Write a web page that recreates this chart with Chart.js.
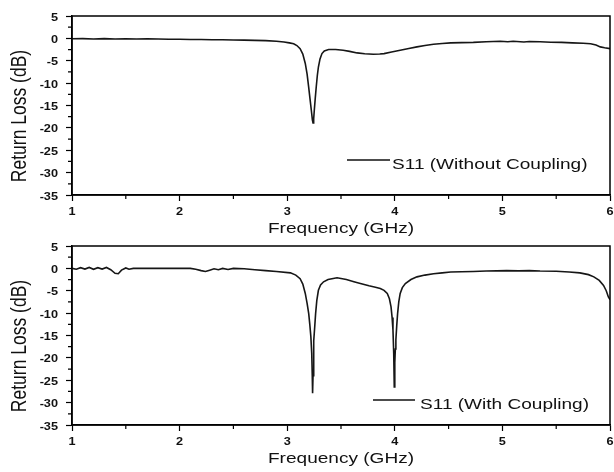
<!DOCTYPE html>
<html>
<head>
<meta charset="utf-8">
<script src="https://cdn.jsdelivr.net/npm/chart.js@4.4.1/dist/chart.umd.min.js"></script>
<style>
  body { margin: 0; background: #fff; }
  .panel { position: absolute; left: 0; width: 614px; height: 242px; }
  #p1 { top: 0; }
  #p2 { top: 230px; }
</style>
</head>
<body>
<div class="panel" id="p1"><canvas id="c1" width="614" height="242"></canvas></div>
<div class="panel" id="p2"><canvas id="c2" width="614" height="242"></canvas></div>
<script>
// frequency axis (GHz) and S11 values (dB)
const freqWithout = [1.0, 1.1, 1.2, 1.3, 1.4, 1.5, 1.6, 1.7, 1.8, 1.9, 2.0, 2.1, 2.2, 2.3, 2.4, 2.5,
  2.6, 2.7, 2.8, 2.9, 2.97, 3.02, 3.06, 3.09, 3.12, 3.145, 3.168, 3.185, 3.199, 3.212, 3.224,
  3.234, 3.24, 3.246, 3.252, 3.261, 3.27, 3.28, 3.29, 3.305, 3.323, 3.345, 3.385, 3.45, 3.52,
  3.58, 3.65, 3.72, 3.8, 3.86, 3.9, 3.97, 4.05, 4.13, 4.206, 4.28, 4.36, 4.44, 4.52, 4.62,
  4.73, 4.85, 4.98, 5.05, 5.1, 5.2, 5.25, 5.35, 5.45, 5.55, 5.65, 5.75, 5.82, 5.87, 5.91,
  5.95, 6.0];
const s11Without = [-0.1, -0.05, -0.15, -0.05, -0.15, -0.1, -0.15, -0.1, -0.15, -0.2, -0.2, -0.25,
  -0.25, -0.3, -0.3, -0.35, -0.4, -0.45, -0.5, -0.65, -0.8, -1.0, -1.2, -1.6, -2.3, -3.5, -5.6,
  -8.0, -10.8, -13.5, -16, -18.2, -18.9, -18.0, -16, -13.3, -10.8, -8.3, -6.4, -4.6, -3.4,
  -2.8, -2.5, -2.5, -2.65, -2.9, -3.25, -3.45, -3.55, -3.5, -3.4, -3.05, -2.65, -2.25, -1.9,
  -1.6, -1.3, -1.15, -1.0, -0.95, -0.9, -0.75, -0.65, -0.75, -0.65, -0.8, -0.7, -0.75, -0.85,
  -0.9, -1.0, -1.1, -1.2, -1.5, -1.9, -2.1, -2.3];

const freqWith = [1.0, 1.04, 1.08, 1.12, 1.16, 1.2, 1.24, 1.28, 1.32, 1.36, 1.4, 1.43, 1.46, 1.5,
  1.53, 1.57, 1.7, 1.9, 2.1, 2.15, 2.2, 2.24, 2.28, 2.32, 2.36, 2.4, 2.45, 2.5, 2.6, 2.7, 2.8,
  2.9, 3.03, 3.08, 3.12, 3.145, 3.168, 3.185, 3.2, 3.21, 3.22, 3.228, 3.233, 3.236, 3.24,
  3.244, 3.249, 3.256, 3.264, 3.275, 3.29, 3.31, 3.338, 3.38, 3.463, 3.55, 3.62, 3.68, 3.76,
  3.82, 3.865, 3.9, 3.93, 3.95, 3.965, 3.975, 3.983, 3.99, 3.995, 4.0, 4.005, 4.01, 4.018,
  4.026, 4.037, 4.05, 4.07, 4.098, 4.15, 4.206, 4.28, 4.36, 4.44, 4.52, 4.62, 4.73, 4.85,
  4.95, 5.04, 5.15, 5.25, 5.35, 5.5, 5.62, 5.72, 5.8, 5.85, 5.9, 5.94, 5.965, 5.985, 6.0];
const s11With = [0.0, -0.2, 0.15, -0.15, 0.2, -0.2, 0.15, -0.15, 0.2, -0.3, -1.1, -1.2, -0.4, 0.1,
  -0.2, 0.0, 0.0, 0.0, 0.0, -0.2, -0.5, -0.7, -0.4, -0.1, -0.3, 0.0, -0.25, 0.0, -0.1, -0.3,
  -0.5, -0.7, -1.0, -1.5, -2.3, -3.5, -5.6, -7.8, -10.1, -12.5, -15.3, -19, -24, -27.9, -24,
  -19.5, -16.2, -13, -10.1, -7.2, -4.9, -3.7, -3.0, -2.5, -2.1, -2.5, -3.0, -3.4, -3.9, -4.2,
  -4.5, -4.9, -5.6, -6.8, -8.6, -11, -13.8, -19, -26.5, -21, -18, -16, -12.8, -10.1, -7.5,
  -5.6, -4.3, -3.4, -2.5, -1.9, -1.5, -1.2, -1.0, -0.8, -0.75, -0.7, -0.6, -0.55, -0.5, -0.55,
  -0.5, -0.6, -0.65, -0.8, -1.0, -1.4, -1.9, -2.7, -3.8, -5.0, -6.4, -7.0];

const xRange = [1, 6];
const yRange = [-35, 5];
const xTitle = 'Frequency (GHz)';
const yTitle = 'Return Loss (dB)';

const SX = 1.27; // source figure text is stretched horizontally

function stretchedText(ctx, text, x, y, font, align, rotate) {
  ctx.save();
  ctx.translate(x, y);
  ctx.scale(SX, 1);
  if (rotate) ctx.rotate(-Math.PI / 2);
  ctx.font = font;
  ctx.fillStyle = '#111';
  ctx.textAlign = align;
  ctx.textBaseline = 'alphabetic';
  ctx.fillText(text, 0, 0);
  ctx.restore();
}

function framePlugin(legend) {
  return {
    id: 'frame',
    afterDraw(chart) {
      const ctx = chart.ctx;
      const a = chart.chartArea;
      const xs = chart.scales.x, ys = chart.scales.y;
      ctx.save();
      // box
      ctx.strokeStyle = '#000';
      ctx.lineWidth = 1.5;
      ctx.strokeRect(a.left, a.top, a.right - a.left, a.bottom - a.top);
      // minor ticks
      ctx.lineWidth = 1.2;
      ctx.beginPath();
      for (let v = xs.min + 0.5; v < xs.max; v += 1) {
        const px = xs.getPixelForValue(v);
        ctx.moveTo(px, a.bottom);
        ctx.lineTo(px, a.bottom + 4);
      }
      for (let v = ys.min + 2.5; v < ys.max; v += 5) {
        const py = ys.getPixelForValue(v);
        ctx.moveTo(a.left, py);
        ctx.lineTo(a.left - 4, py);
      }
      ctx.stroke();
      ctx.restore();

      // tick labels from the library's ticks
      xs.ticks.forEach(t => {
        stretchedText(ctx, String(t.value), xs.getPixelForValue(t.value), a.bottom + 20,
          'bold 10px "Liberation Sans", Arial', 'center');
      });
      ys.ticks.forEach(t => {
        stretchedText(ctx, String(t.value), 58, ys.getPixelForValue(t.value) + 4.5,
          'bold 10px "Liberation Sans", Arial', 'right');
      });

      // axis titles
      stretchedText(ctx, xTitle, (a.left + a.right) / 2, 233.3,
        '15px "Liberation Sans", Arial', 'center');
      stretchedText(ctx, yTitle, 25.5, 116, '17.5px "Liberation Sans", Arial', 'center', true);

      // legend inside the plot
      ctx.save();
      ctx.strokeStyle = '#111';
      ctx.lineWidth = 1.6;
      ctx.beginPath();
      ctx.moveTo(legend.x1, legend.y);
      ctx.lineTo(legend.x2, legend.y);
      ctx.stroke();
      ctx.restore();
      stretchedText(ctx, legend.text, legend.tx, legend.ty, '15px "Liberation Sans", Arial', 'left');
    }
  };
}

function makeChart(id, freq, vals, legend) {
  return new Chart(document.getElementById(id), {
    type: 'line',
    data: {
      datasets: [{
        label: legend.text,
        data: freq.map((f, i) => ({ x: f, y: vals[i] })),
        borderColor: '#161616',
        borderWidth: 1.6,
        pointRadius: 0,
        tension: 0,
        fill: false
      }]
    },
    options: {
      responsive: false,
      animation: false,
      layout: { padding: { top: 16, right: 4, left: 0, bottom: 0 } },
      plugins: { legend: { display: false }, tooltip: { enabled: false } },
      scales: {
        x: {
          type: 'linear',
          min: xRange[0], max: xRange[1],
          ticks: { display: false, stepSize: 1 },
          grid: { drawOnChartArea: false, drawTicks: true, tickLength: 6, tickWidth: 1.2, tickColor: '#000' },
          border: { color: '#000', width: 1.5 },
          afterFit(s) { s.height = 47; }
        },
        y: {
          min: yRange[0], max: yRange[1],
          ticks: { display: false, stepSize: 5 },
          grid: { drawOnChartArea: false, drawTicks: true, tickLength: 6, tickWidth: 1.2, tickColor: '#000' },
          border: { color: '#000', width: 1.5 },
          afterFit(s) { s.width = 72; }
        }
      }
    },
    plugins: [framePlugin(legend)]
  });
}

makeChart('c1', freqWithout, s11Without,
  { text: 'S11 (Without Coupling)', x1: 347, x2: 390, y: 160, tx: 392, ty: 168.5 });
makeChart('c2', freqWith, s11With,
  { text: 'S11 (With Coupling)', x1: 373, x2: 415, y: 170, tx: 420, ty: 179 });
</script>
</body>
</html>
